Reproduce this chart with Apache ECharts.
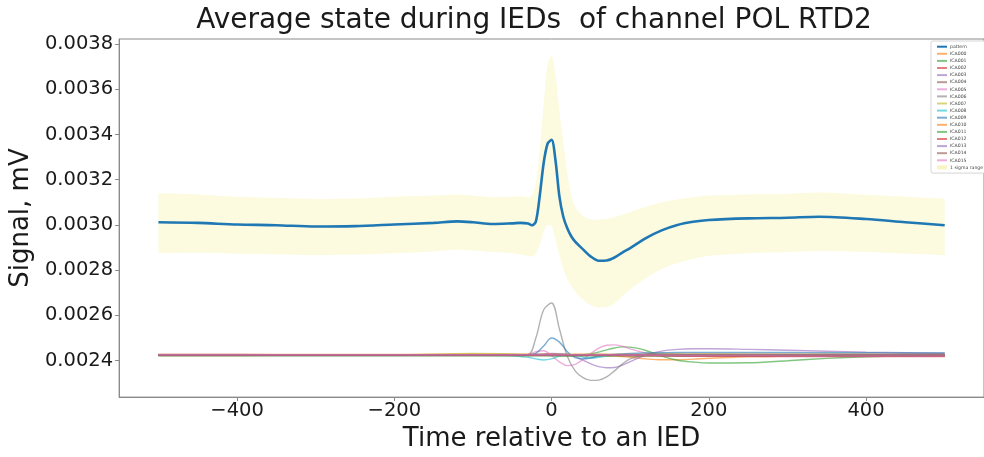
<!DOCTYPE html>
<html>
<head>
<meta charset="utf-8">
<script src="https://cdn.jsdelivr.net/npm/echarts@6/dist/echarts.min.js"></script>
<style>
html,body{margin:0;padding:0;background:#fff;}
#chart{width:984px;height:457px;}
</style>
</head>
<body>
<div id="chart"></div>
<script>
// ---------- data ----------
var titleText = 'Average state during IEDs  of channel POL RTD2';
var xAxisTitle = 'Time relative to an IED';
var yAxisTitle = 'Signal, mV';

var timeMain = [-500,-450,-400,-350,-300,-250,-200,-150,-120,-100,-75,-50,-40,-30,-25,-20,-15,-10,-5,0,5,10,15,20,25,30,40,50,60,70,80,90,100,120,140,160,180,200,250,300,340,400,450,500];

var pattern = [0.003012,0.003009,0.003002,0.002999,0.002993,0.002995,0.003002,0.003009,0.003016,0.003012,0.003004,0.003007,0.003009,0.003006,0.002999,0.003015,0.003130,0.003275,0.003360,0.003376,0.003285,0.003125,0.003035,0.002985,0.002950,0.002926,0.002892,0.002860,0.002842,0.002843,0.002856,0.002878,0.002898,0.002942,0.002976,0.003000,0.003014,0.003022,0.003029,0.003032,0.003036,0.003026,0.003012,0.002999];

var sigmaUpper = [0.003140,0.003135,0.003125,0.003120,0.003115,0.003117,0.003125,0.003130,0.003135,0.003130,0.003123,0.003125,0.003127,0.003123,0.003130,0.003185,0.003335,0.003535,0.003712,0.003748,0.003662,0.003505,0.003365,0.003225,0.003135,0.003080,0.003040,0.003025,0.003023,0.003027,0.003035,0.003045,0.003057,0.003080,0.003100,0.003113,0.003123,0.003130,0.003135,0.003137,0.003143,0.003133,0.003125,0.003117];

var sigmaLower = [0.002875,0.002877,0.002873,0.002871,0.002867,0.002869,0.002875,0.002883,0.002890,0.002887,0.002880,0.002875,0.002870,0.002863,0.002860,0.002870,0.002915,0.002970,0.003000,0.002995,0.002935,0.002865,0.002805,0.002760,0.002730,0.002705,0.002670,0.002645,0.002635,0.002638,0.002653,0.002685,0.002715,0.002765,0.002805,0.002832,0.002850,0.002863,0.002875,0.002880,0.002885,0.002880,0.002873,0.002867];

var timeICA = [-500,-400,-300,-200,-100,-50,-30,-20,-10,0,10,20,30,40,50,60,70,80,90,100,120,140,160,180,200,250,300,350,400,450,500];

var ICA000 = [0.002424,0.002424,0.002425,0.002425,0.002426,0.002426,0.002426,0.002425,0.002424,0.002424,0.002425,0.002427,0.002428,0.002428,0.002427,0.002425,0.002422,0.002420,0.002418,0.002415,0.002408,0.002404,0.002404,0.002407,0.002411,0.002417,0.002420,0.002422,0.002423,0.002424,0.002424];
var ICA001 = [0.002425,0.002425,0.002424,0.002424,0.002425,0.002425,0.002425,0.002424,0.002424,0.002423,0.002422,0.002421,0.002422,0.002426,0.002430,0.002438,0.002448,0.002456,0.002461,0.002460,0.002445,0.002420,0.002402,0.002394,0.002390,0.002391,0.002400,0.002410,0.002417,0.002421,0.002423];
var ICA002 = [0.002425,0.002425,0.002425,0.002424,0.002424,0.002425,0.002425,0.002425,0.002426,0.002427,0.002426,0.002425,0.002424,0.002424,0.002425,0.002426,0.002426,0.002425,0.002424,0.002423,0.002422,0.002422,0.002421,0.002420,0.002420,0.002419,0.002418,0.002418,0.002418,0.002418,0.002418];
var ICA003 = [0.002426,0.002426,0.002426,0.002425,0.002425,0.002426,0.002427,0.002428,0.002430,0.002432,0.002431,0.002428,0.002420,0.002402,0.002386,0.002374,0.002369,0.002370,0.002380,0.002396,0.002425,0.002442,0.002450,0.002453,0.002453,0.002450,0.002446,0.002442,0.002438,0.002435,0.002433];
var ICA004 = [0.002427,0.002427,0.002426,0.002426,0.002427,0.002427,0.002427,0.002427,0.002428,0.002429,0.002428,0.002427,0.002426,0.002426,0.002427,0.002428,0.002428,0.002428,0.002427,0.002427,0.002426,0.002426,0.002426,0.002427,0.002427,0.002428,0.002428,0.002428,0.002428,0.002427,0.002427];
var ICA005 = [0.002424,0.002424,0.002424,0.002424,0.002424,0.002424,0.002426,0.002440,0.002444,0.002422,0.002395,0.002378,0.002384,0.002405,0.002432,0.002455,0.002468,0.002470,0.002464,0.002452,0.002434,0.002425,0.002421,0.002420,0.002420,0.002420,0.002420,0.002419,0.002419,0.002419,0.002419];
var ICA006 = [0.002425,0.002425,0.002425,0.002425,0.002425,0.002425,0.002426,0.002500,0.002625,0.002655,0.002540,0.002420,0.002355,0.002325,0.002313,0.002314,0.002328,0.002355,0.002385,0.002408,0.002428,0.002432,0.002430,0.002428,0.002428,0.002428,0.002428,0.002428,0.002428,0.002428,0.002428];
var ICA007 = [0.002423,0.002423,0.002424,0.002426,0.002432,0.002430,0.002427,0.002425,0.002424,0.002424,0.002425,0.002426,0.002427,0.002428,0.002428,0.002428,0.002427,0.002426,0.002426,0.002426,0.002427,0.002428,0.002429,0.002429,0.002429,0.002428,0.002428,0.002427,0.002427,0.002426,0.002426];
var ICA008 = [0.002424,0.002424,0.002424,0.002424,0.002424,0.002422,0.002415,0.002408,0.002403,0.002408,0.002420,0.002428,0.002425,0.002415,0.002412,0.002415,0.002420,0.002424,0.002424,0.002424,0.002424,0.002424,0.002424,0.002424,0.002424,0.002424,0.002424,0.002424,0.002424,0.002424,0.002424];
var ICA009 = [0.002425,0.002425,0.002425,0.002425,0.002425,0.002425,0.002425,0.002432,0.002465,0.002500,0.002482,0.002440,0.002414,0.002408,0.002412,0.002420,0.002425,0.002428,0.002430,0.002432,0.002434,0.002435,0.002436,0.002436,0.002436,0.002436,0.002436,0.002435,0.002435,0.002434,0.002434];
var ICA010 = [0.002428,0.002428,0.002428,0.002428,0.002428,0.002428,0.002428,0.002428,0.002428,0.002428,0.002428,0.002428,0.002428,0.002428,0.002428,0.002428,0.002428,0.002428,0.002428,0.002428,0.002428,0.002428,0.002428,0.002428,0.002428,0.002428,0.002428,0.002428,0.002428,0.002428,0.002428];
var ICA011 = [0.002422,0.002422,0.002422,0.002422,0.002422,0.002422,0.002422,0.002422,0.002422,0.002422,0.002422,0.002422,0.002422,0.002422,0.002422,0.002422,0.002422,0.002422,0.002422,0.002422,0.002422,0.002422,0.002422,0.002422,0.002422,0.002422,0.002422,0.002422,0.002422,0.002422,0.002422];
var ICA012 = [0.002424,0.002424,0.002424,0.002424,0.002424,0.002424,0.002424,0.002424,0.002424,0.002424,0.002424,0.002424,0.002424,0.002424,0.002424,0.002424,0.002424,0.002424,0.002423,0.002423,0.002423,0.002422,0.002422,0.002421,0.002421,0.002421,0.002420,0.002420,0.002420,0.002420,0.002420];
var ICA013 = [0.002426,0.002426,0.002426,0.002426,0.002426,0.002426,0.002426,0.002426,0.002426,0.002426,0.002426,0.002426,0.002426,0.002426,0.002426,0.002426,0.002426,0.002426,0.002426,0.002426,0.002426,0.002426,0.002426,0.002426,0.002426,0.002426,0.002426,0.002426,0.002426,0.002426,0.002426];
var ICA014 = [0.002423,0.002423,0.002423,0.002423,0.002423,0.002423,0.002423,0.002423,0.002423,0.002423,0.002423,0.002423,0.002423,0.002423,0.002423,0.002423,0.002423,0.002423,0.002423,0.002423,0.002423,0.002423,0.002423,0.002423,0.002423,0.002423,0.002423,0.002423,0.002423,0.002423,0.002423];
var ICA015 = [0.002425,0.002425,0.002425,0.002425,0.002425,0.002425,0.002425,0.002425,0.002425,0.002425,0.002425,0.002425,0.002425,0.002425,0.002425,0.002425,0.002425,0.002425,0.002424,0.002424,0.002424,0.002423,0.002423,0.002422,0.002422,0.002422,0.002421,0.002421,0.002421,0.002421,0.002421];

var icaNames = ['ICA000','ICA001','ICA002','ICA003','ICA004','ICA005','ICA006','ICA007','ICA008','ICA009','ICA010','ICA011','ICA012','ICA013','ICA014','ICA015'];
var icaValues = [ICA000,ICA001,ICA002,ICA003,ICA004,ICA005,ICA006,ICA007,ICA008,ICA009,ICA010,ICA011,ICA012,ICA013,ICA014,ICA015];
var icaColors = ['#ff7f0e','#2ca02c','#d62728','#9467bd','#8c564b','#e377c2','#7f7f7f','#bcbd22','#17becf','#1f77b4','#ff7f0e','#2ca02c','#d62728','#9467bd','#8c564b','#e377c2'];

// ---------- build ----------
function pairs(xs, ys){ return xs.map(function(x,i){ return [x, ys[i]]; }); }
// value-first pairs so that the stacked dimension is the y value
function pairsYX(xs, ys){ return xs.map(function(x,i){ return [ys[i], x]; }); }
var FONT = "'DejaVu Sans', sans-serif";
var BAND = '#fcfbe0';

var series = [];
// 1-sigma band: invisible lower bound + stacked (upper - lower) filled area
series.push({
  name: 'band_lower', type: 'line', stack: 'sigma', smooth: 0.3, symbol: 'none',
  encode: {x: 1, y: 0},
  data: pairsYX(timeMain, sigmaLower),
  lineStyle: {opacity: 0, width: 0}, silent: true, z: 1
});
series.push({
  name: '1 sigma range', type: 'line', stack: 'sigma', smooth: 0.3, symbol: 'none',
  encode: {x: 1, y: 0},
  data: pairsYX(timeMain, sigmaUpper.map(function(v,i){ return v - sigmaLower[i]; })),
  lineStyle: {opacity: 0, width: 0}, itemStyle: {color: BAND},
  areaStyle: {color: BAND, opacity: 1}, silent: true, z: 1
});
series.push({
  name: 'pattern', type: 'line', smooth: 0.3, symbol: 'none',
  data: pairs(timeMain, pattern),
  lineStyle: {color: '#1f77b4', width: 2.6}, itemStyle: {color: '#1f77b4'}, z: 5
});
icaNames.forEach(function(n, k){
  series.push({
    name: n, type: 'line', smooth: 0.35, symbol: 'none',
    data: pairs(timeICA, icaValues[k]),
    lineStyle: {color: icaColors[k], width: 1.4, opacity: 0.6},
    itemStyle: {color: icaColors[k]}, z: 3
  });
});

var legendData = [{name: 'pattern'}].concat(icaNames.map(function(n){ return {name: n}; }))
  .concat([{name: '1 sigma range', icon: 'rect', itemStyle: {opacity: 1, color: '#f8f4c4'}}]);

var chart = echarts.init(document.getElementById('chart'), null, {renderer: 'canvas'});
chart.setOption({
  animation: false,
  backgroundColor: '#ffffff',
  graphic: [{
    type: 'text', x: 534, y: 21,
    style: {text: titleText, font: "28px 'DejaVu Sans', sans-serif", fill: '#1a1a1a', textAlign: 'center', textVerticalAlign: 'middle'}
  }],
  grid: {left: 113, top: 39, right: -7, bottom: 55, show: true, borderColor: '#8a8a8a', borderWidth: 1, containLabel: false},
  legend: {
    orient: 'vertical', left: 931, top: 41,
    data: legendData,
    itemWidth: 10, itemHeight: 4, itemGap: 1.7,
    padding: [3, 30, 3, 5],
    borderColor: '#d5d5d5', borderWidth: 1, borderRadius: 2, backgroundColor: '#ffffff',
    itemStyle: {opacity: 0},
    textStyle: {fontFamily: FONT, fontSize: 4.6, color: '#444', lineHeight: 5.4, padding: [0,0,0,-2]},
    selectedMode: false
  },
  xAxis: {
    type: 'value', min: -550, max: 550, splitNumber: 5, z: 10,
    name: xAxisTitle, nameLocation: 'middle', nameGap: 23,
    nameTextStyle: {fontFamily: FONT, fontSize: 26, color: '#1a1a1a'},
    axisLine: {show: true, onZero: false, lineStyle: {color: '#8a8a8a', width: 1}},
    axisTick: {show: true, length: 4, lineStyle: {color: '#8a8a8a'}},
    axisLabel: {fontFamily: FONT, fontSize: 19.5, color: '#1a1a1a', margin: 4, showMinLabel: false, showMaxLabel: false,
      formatter: function(v){ return v < 0 ? '\u2212' + Math.abs(v) : String(v); }},
    splitLine: {show: false}
  },
  yAxis: {
    type: 'value', min: 0.002239, max: 0.003822, splitNumber: 8, z: 10,
    name: yAxisTitle, nameLocation: 'middle', nameGap: 68, nameRotate: 90,
    nameTextStyle: {fontFamily: FONT, fontSize: 26, color: '#1a1a1a'},
    axisLine: {show: true, onZero: false, lineStyle: {color: '#8a8a8a', width: 1}},
    axisTick: {show: true, length: 4, lineStyle: {color: '#8a8a8a'}},
    axisLabel: {fontFamily: FONT, fontSize: 19.5, color: '#1a1a1a', margin: 6, showMinLabel: false, showMaxLabel: false,
      formatter: function(v){ return v.toFixed(4); }},
    splitLine: {show: false}
  },
  series: series
});
</script>
</body>
</html>
